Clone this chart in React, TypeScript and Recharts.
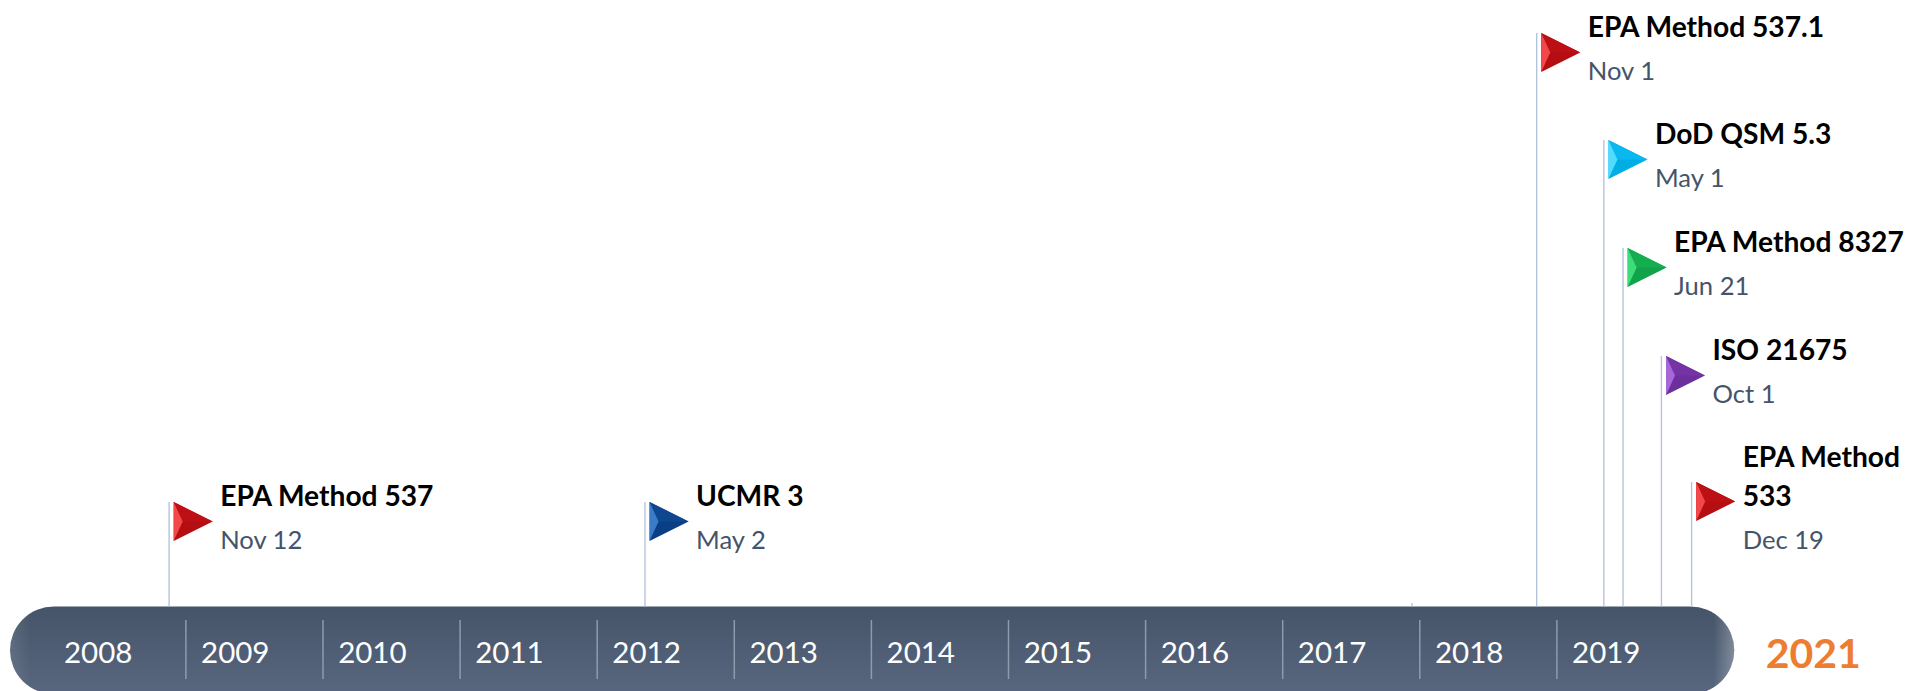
import { Bar, ComposedChart, ReferenceArea, ReferenceDot, ReferenceLine, Scatter, XAxis, YAxis } from "recharts";

// axis runs in fractional years, height is measured up from the bottom of the picture
const years = [2008, 2009, 2010, 2011, 2012, 2013, 2014, 2015, 2016, 2017, 2018, 2019];
const yearDividers = [2009, 2010, 2011, 2012, 2013, 2014, 2015, 2016, 2017, 2018, 2019];
const endYearLabel = "2021";
const endYearAt = 2020.87;

const eventNames = ["EPA Method 537", "UCMR 3", "EPA Method 537.1", "DoD QSM 5.3", "EPA Method 8327", "ISO 21675", "EPA Method\n533"];
const eventDates = ["Nov 12", "May 2", "Nov 1", "May 1", "Jun 21", "Oct 1", "Dec 19"];
const eventYears = [2008.878, 2012.349, 2018.853, 2019.343, 2019.483, 2019.763, 2019.983];
const eventHeights = [189, 189, 658, 551, 443, 335, 209];
const eventColors = ["red", "navy", "red", "cyan", "green", "purple", "red"];

const stubYear = 2017.943;
const stubHeight = 88;
const barHeight = 84.5;

const palette: Record<string, [string, string, string]> = {
  red: ["#f4474a", "#b40d12", "#bd1015"],
  navy: ["#3b7cc8", "#0a3f86", "#0e4690"],
  cyan: ["#4fdcff", "#00aee6", "#08b8ee"],
  green: ["#3fdc7c", "#10a349", "#14ad50"],
  purple: ["#a866d8", "#6c2f9c", "#7434a6"],
};

const WIDTH = 1912;
const HEIGHT = 691;
const PX_PER_YEAR = 137.1;
const xMin = 2008 - 48.8 / PX_PER_YEAR;
const xMax = xMin + WIDTH / PX_PER_YEAR;

const poles = [
  ...eventYears.map((year, i) => ({ year, range: [barHeight, eventHeights[i]] })),
  { year: stubYear, range: [barHeight, stubHeight] },
];
const flags = eventYears.map((year, i) => ({
  year,
  height: eventHeights[i],
  name: eventNames[i],
  date: eventDates[i],
  color: eventColors[i],
}));
const yearLabels = years.map((y) => ({ year: y + 0.36, height: 40, label: String(y) }));

const FONT = "Lato, sans-serif";

function Flag(props: any) {
  const { cx, cy, payload } = props;
  const [light, dark, mid] = palette[payload.color];
  const x = cx + 4.5;
  const lines: string[] = payload.name.split("\n");
  const textX = cx + 51;
  const nameY = cy - 7;
  const dateY = cy + 37 + (lines.length - 1) * 20;
  return (
    <g>
      <polygon points={`${x},${cy} ${x + 39},${cy + 19.5} ${x},${cy + 39}`} fill={dark} />
      <polygon points={`${x},${cy} ${x + 39},${cy + 19.5} ${x + 9},${cy + 19.5}`} fill={mid} />
      <polygon points={`${x},${cy} ${x + 9},${cy + 19.5} ${x},${cy + 39}`} fill={light} />
      <text fontFamily={FONT} fontWeight={700} fontSize={28.2} fill="#000" dominantBaseline="central">
        {lines.map((line, i) => (
          <tspan key={line} x={textX} y={nameY + (i === 0 ? (lines.length > 1 ? -19 : 0) : 20)}>{line}</tspan>
        ))}
      </text>
      <text x={textX} y={dateY} fontFamily={FONT} fontSize={25.6} fill="#44546a" dominantBaseline="central">
        {payload.date}
      </text>
    </g>
  );
}

function Pill(props: any) {
  const { x, y, width, height } = props;
  return (
    <g>
      <rect x={x} y={y} width={width} height={height} rx={44} ry={44} fill="url(#pillFill)" />
      <rect x={x} y={y} width={width} height={height} rx={44} ry={44} fill="url(#pillEdge)" />
    </g>
  );
}

function YearLabel(props: any) {
  const { cx, cy, payload } = props;
  return (
    <text x={cx} y={cy} textAnchor="middle" dominantBaseline="central" fontFamily={FONT} fontSize={29.5} fill="#fff">
      {payload.label}
    </text>
  );
}

function EndYear(props: any) {
  const { cx, cy } = props;
  return (
    <text x={cx} y={cy} textAnchor="middle" dominantBaseline="central" fontFamily={FONT} fontWeight={700} fontSize={41} fill="#ed7d31">
      {endYearLabel}
    </text>
  );
}

export default function App() {
  return (
    <div style={{ position: "absolute", left: 0, top: 0, width: WIDTH, height: HEIGHT, overflow: "hidden", background: "#fff" }}>
      <ComposedChart width={WIDTH} height={HEIGHT} data={poles} margin={{ top: 0, right: 0, bottom: 0, left: 0 }}>
        <defs>
          <linearGradient id="pillFill" x1="0" y1="0" x2="0" y2="1">
            <stop offset="0" stopColor="#455468" />
            <stop offset="1" stopColor="#58677f" />
          </linearGradient>
          <linearGradient id="pillEdge" x1="0" y1="0" x2="1" y2="0">
            <stop offset="0" stopColor="#fff" stopOpacity={0.1} />
            <stop offset="0.012" stopColor="#fff" stopOpacity={0} />
            <stop offset="0.988" stopColor="#fff" stopOpacity={0} />
            <stop offset="1" stopColor="#fff" stopOpacity={0.28} />
          </linearGradient>
        </defs>
        <XAxis dataKey="year" type="number" domain={[xMin, xMax]} allowDataOverflow hide />
        <YAxis type="number" domain={[0, HEIGHT]} allowDataOverflow hide />
        <ReferenceArea x1={2008 - 38.8 / PX_PER_YEAR} x2={2019.98 + 43 / PX_PER_YEAR} y1={-3} y2={barHeight} ifOverflow="visible" shape={Pill} />
        {yearDividers.map((year) => (
          <ReferenceLine
            key={year}
            segment={[{ x: year, y: 12 }, { x: year, y: 71 }]}
            stroke="#8f9bad"
            strokeWidth={1.5}
          />
        ))}
        <Bar dataKey="range" barSize={2} fill="#b3c3da" isAnimationActive={false} />
        <Scatter data={flags} dataKey="height" shape={Flag} isAnimationActive={false} />
        <Scatter data={yearLabels} dataKey="height" shape={YearLabel} isAnimationActive={false} />
        <ReferenceDot x={endYearAt} y={39} r={0} shape={EndYear} />
      </ComposedChart>
    </div>
  );
}
